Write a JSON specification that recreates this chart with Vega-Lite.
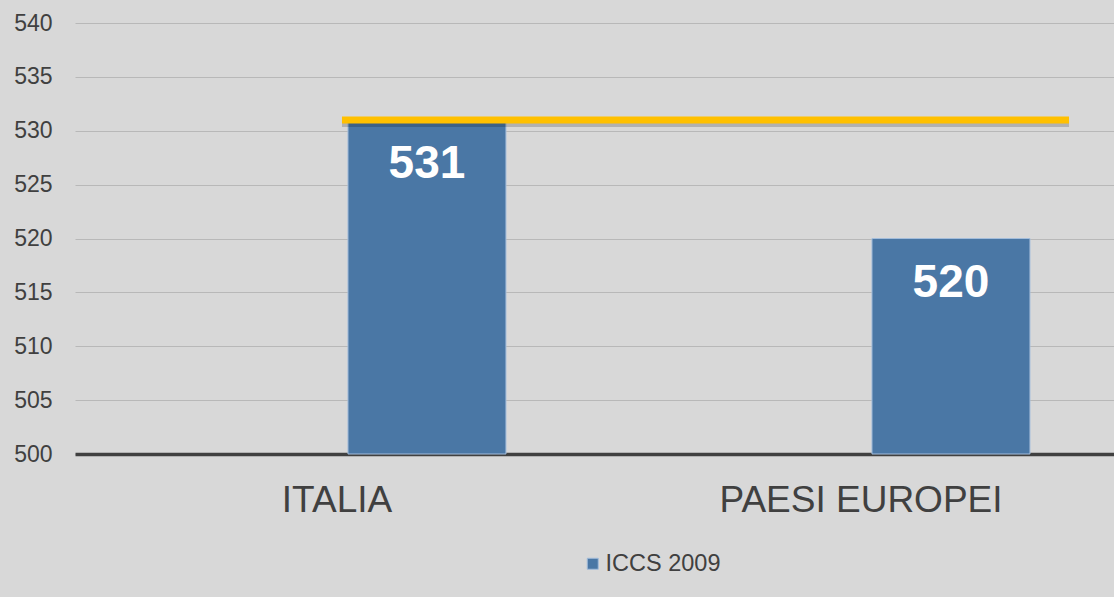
{
  "$schema": "https://vega.github.io/schema/vega-lite/v6.json",
  "width": 1048,
  "height": 431,
  "autosize": {"type": "none"},
  "padding": {"left": 75, "top": 23, "right": 0, "bottom": 143},
  "background": "#d8d8d8",
  "config": {"view": {"stroke": null}, "font": "Liberation Sans"},
  "datasets": {
    "barre": [
      {"paese": "ITALIA", "serie": "ICCS 2009", "punteggio": 531},
      {"paese": "PAESI EUROPEI", "serie": "ICCS 2009", "punteggio": 520}
    ],
    "linea": [
      {"da": "ITALIA", "a": "PAESI EUROPEI", "valore": 531}
    ]
  },
  "layer": [
    {
      "data": {"name": "barre"},
      "mark": {"type": "bar", "stroke": "#a3bddb", "strokeWidth": 1},
      "encoding": {
        "x": {
          "field": "paese", "type": "nominal",
          "scale": {"paddingInner": 0, "paddingOuter": 0},
          "axis": {"title": null, "labelAngle": 0, "labelFontSize": 37, "labelLimit": 0, "labelColor": "#404040", "ticks": false, "domainColor": "#404040", "domainWidth": 3.5, "labelPadding": 28, "grid": false}
        },
        "xOffset": {"field": "serie", "scale": {"domain": [" ", "ICCS 2009"], "paddingInner": 0.122, "paddingOuter": 0.517}},
        "y": {
          "field": "punteggio", "type": "quantitative",
          "scale": {"domain": [500, 540], "nice": false, "zero": false},
          "axis": {"title": null, "values": [500, 505, 510, 515, 520, 525, 530, 535, 540], "grid": true, "gridColor": "#b8b8b8", "gridWidth": 1, "domain": false, "ticks": false, "labelFontSize": 23, "labelColor": "#404040", "labelPadding": 23}
        },
        "y2": {"datum": 500},
        "color": {
          "field": "serie", "type": "nominal",
          "scale": {"domain": ["ICCS 2009"], "range": ["#4a77a5"]},
          "legend": {"title": null, "orient": "none", "legendX": 506, "legendY": 529, "symbolType": "square", "symbolSize": 121, "labelFontSize": 23.5, "labelOffset": 1, "labelColor": "#404040", "symbolStrokeColor": "#a3bddb", "symbolStrokeWidth": 1}
        }
      }
    },
    {
      "data": {"name": "barre"},
      "mark": {"type": "text", "fontSize": 46, "fontWeight": "bold", "color": "white", "baseline": "top", "dy": 22},
      "encoding": {
        "x": {"field": "paese", "type": "nominal"},
        "xOffset": {"field": "serie"},
        "y": {"field": "punteggio", "type": "quantitative"},
        "text": {"field": "punteggio", "type": "quantitative"}
      }
    },
    {
      "data": {"name": "linea"},
      "mark": {"type": "rule", "color": "#000000", "opacity": 0.18, "strokeWidth": 6, "yOffset": 4},
      "encoding": {
        "x": {"field": "da", "type": "nominal", "bandPosition": 0.5095},
        "x2": {"field": "a", "bandPosition": 0.897},
        "y": {"field": "valore", "type": "quantitative"}
      }
    },
    {
      "data": {"name": "linea"},
      "mark": {"type": "rule", "color": "#ffc000", "strokeWidth": 7},
      "encoding": {
        "x": {"field": "da", "type": "nominal", "bandPosition": 0.5095},
        "x2": {"field": "a", "bandPosition": 0.897},
        "y": {"field": "valore", "type": "quantitative"}
      }
    }
  ]
}
